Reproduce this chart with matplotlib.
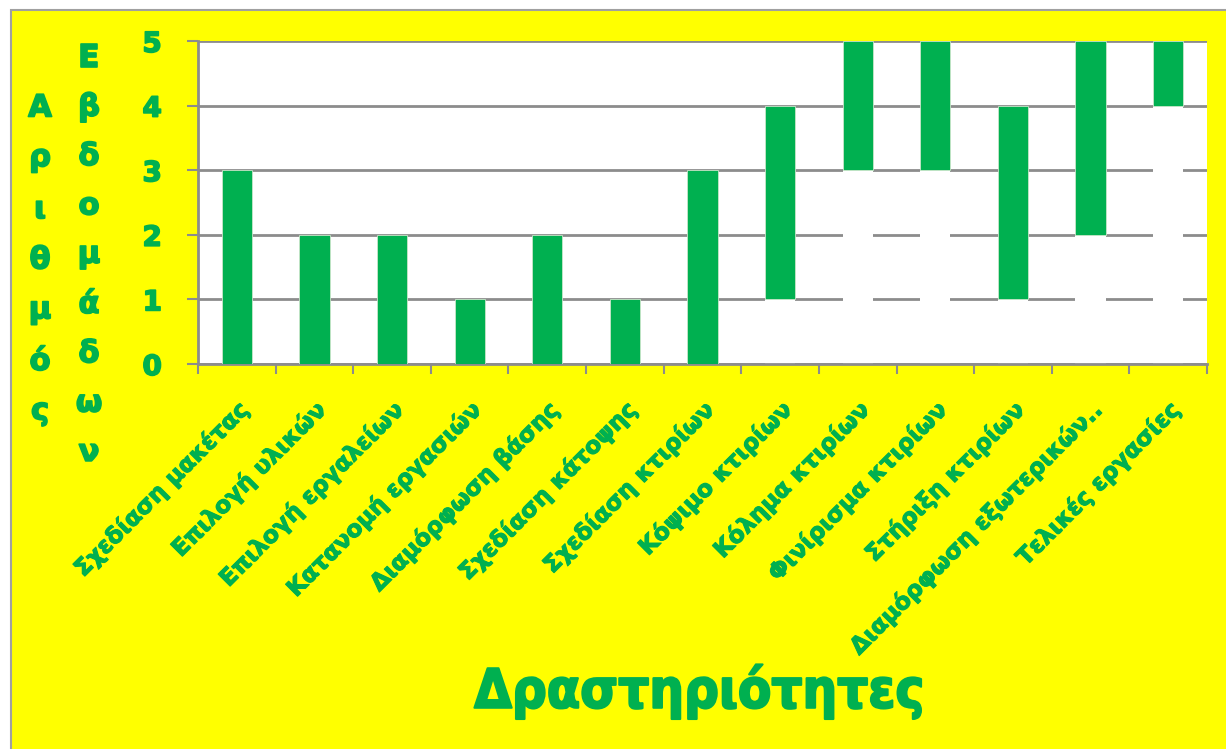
import numpy as np
import matplotlib
matplotlib.use('Agg')
import matplotlib.pyplot as plt
import matplotlib.patheffects as pe
import matplotlib.transforms as mtransforms
from matplotlib.patches import Rectangle

GREEN = '#00B050'
YELLOW = '#FFFF00'
GRID = '#8c8c8c'

activities = ['Σχεδίαση μακέτας', 'Επιλογή υλικών', 'Επιλογή εργαλείων',
              'Κατανομή εργασιών', 'Διαμόρφωση βάσης', 'Σχεδίαση κάτοψης',
              'Σχεδίαση κτιρίων', 'Κόψιμο κτιρίων', 'Κόλημα κτιρίων',
              'Φινίρισμα κτιρίων', 'Στήριξη κτιρίων',
              'Διαμόρφωση εξωτερικών..', 'Τελικές εργασίες']
start_week = [0, 0, 0, 0, 0, 0, 0, 1, 3, 3, 1, 2, 4]
duration = [3, 2, 2, 1, 2, 1, 3, 3, 2, 2, 3, 3, 1]
yticks = [0, 1, 2, 3, 4, 5]

# thicken the bold text a little (original uses a very heavy face)
heavy = [pe.withStroke(linewidth=1.2, foreground=GREEN)]

fig = plt.figure(figsize=(12.26, 7.49), dpi=100, facecolor='white')
# yellow chart area with thin grey border
fig.patches.append(Rectangle((11 / 1226, -0.01), 1.0, 739 / 749 + 0.01,
                             transform=fig.transFigure, facecolor=YELLOW,
                             edgecolor='#a0a0a0', linewidth=1.5, zorder=-5))

ax = fig.add_axes([198 / 1226, 385 / 749, 1009 / 1226, 323 / 749])
ax.set_facecolor('white')

x = np.arange(len(activities))
w = 0.39
# invisible (white) base bars, then the green duration bars
ax.bar(x, start_week, w, color='white', zorder=2)
ax.bar(x, duration, w, bottom=start_week, color=GREEN,
       edgecolor='#c8e6c9', linewidth=0.6, zorder=3)

ax.set_xlim(-0.5, len(activities) - 0.5)
ax.set_ylim(0, 5)
ax.set_yticks(yticks)
ax.yaxis.grid(True, color=GRID, linewidth=2, zorder=1)
ax.set_axisbelow(True)

for s in ['top', 'right']:
    ax.spines[s].set_visible(False)
for s in ['left', 'bottom']:
    ax.spines[s].set_color(GRID)
    ax.spines[s].set_linewidth(2)

ax.tick_params(axis='y', length=8, width=1.5, color=GRID, pad=18,
               labelsize=20, labelcolor=GREEN)
for lbl in ax.get_yticklabels():
    lbl.set_fontweight('bold')
    lbl.set_path_effects(heavy)

ax.set_xticks(x)
ax.set_xticklabels(activities, rotation=45, ha='right', va='top',
                   rotation_mode='anchor', fontsize=16.8, fontweight='bold',
                   color=GREEN)
shift = mtransforms.ScaledTranslation(-5 / 100, 2 / 100, fig.dpi_scale_trans)
for lbl in ax.get_xticklabels():
    lbl.set_path_effects([pe.withStroke(linewidth=0.8, foreground=GREEN)])
    lbl.set_transform(lbl.get_transform() + shift)
ax.tick_params(axis='x', which='major', length=0, pad=24)
ax.set_xticks(np.arange(-0.5, len(activities)), minor=True)
ax.tick_params(axis='x', which='minor', length=7, width=1.5, color=GRID)

# stacked-letter y label, two columns
col1 = 'Αριθμός'
col2 = 'Εβδομάδων'
for i, ch in enumerate(col1):
    fig.text(40 / 1226, 1 - (108 + i * 50.7) / 749, ch, ha='center', va='center',
             fontsize=22, fontweight='bold', color=GREEN, path_effects=heavy)
for i, ch in enumerate(col2):
    fig.text(89 / 1226, 1 - (58 + i * 49.3) / 749, ch, ha='center', va='center',
             fontsize=22, fontweight='bold', color=GREEN, path_effects=heavy)

fig.text(699 / 1226, 1 - 692 / 749, 'Δραστηριότητες', ha='center', va='center',
         fontsize=39, fontweight='bold', color=GREEN, fontstretch='condensed',
         path_effects=[pe.withStroke(linewidth=1.5, foreground=GREEN)])

fig.savefig('out.png', dpi=100, facecolor=fig.get_facecolor())
